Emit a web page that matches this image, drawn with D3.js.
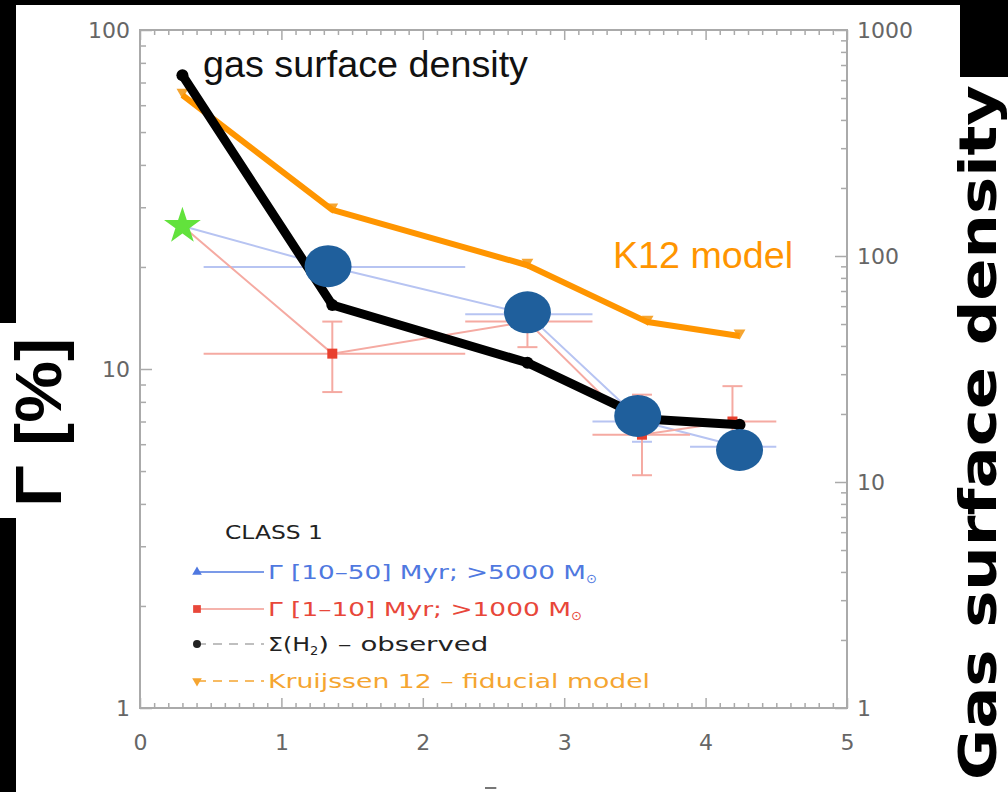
<!DOCTYPE html>
<html>
<head>
<meta charset="utf-8">
<script src="https://cdn.jsdelivr.net/npm/d3@7"></script>
<style>
  body { margin: 0; background: #000; }
  svg { display: block; }
  .tick text { font-family: "DejaVu Sans", sans-serif; fill: #666; }
</style>
</head>
<body>
<div id="chart"></div>
<script>
// Data
const xTicks = [0, 1, 2, 3, 4, 5];
const leftTicks = [1, 10, 100];
const rightTicks = [1, 10, 100, 1000];

// Gamma [10-50] Myr; >5000 Msun (left axis, %)
const blueX = [0.3, 1.35, 2.74, 3.55, 4.24];
const blueY = [26.4, 20.0, 14.5, 7.0, 5.9];
const blueXlo = [null, 0.45, 2.3, 3.2, 3.89];
const blueXhi = [null, 2.3, 3.2, 3.89, 4.5];
const blueYlo = [null, 18.5, 13.5, 6.1, 5.5];
const blueYhi = [null, 21.5, 15.5, 7.9, 6.3];

// Gamma [1-10] Myr; >1000 Msun (left axis, %)
const redX = [0.3, 1.36, 2.74, 3.55, 4.19];
const redY = [26.4, 11.1, 13.8, 6.4, 7.0];
const redXlo = [null, 0.45, 2.3, 3.2, 3.89];
const redXhi = [null, 2.3, 3.2, 3.89, 4.5];
const redYlo = [null, 8.55, 11.6, 4.86, 5.73];
const redYhi = [null, 13.8, 16.5, 8.4, 8.9];

// Sigma(H2) observed (right axis)
const gasX = [0.3, 1.36, 2.74, 3.58, 4.24];
const gasY = [631, 60.7, 33.7, 19.0, 17.9];

// Kruijssen 12 fiducial model (right axis)
const k12X = [0.3, 1.36, 2.74, 3.59, 4.24];
const k12Y = [515, 160, 91, 51, 44.3];

// Highlight discs over the blue points
const discX = [1.33, 2.74, 3.52, 4.24];
const discY = [20.1, 14.7, 7.27, 5.77];

const starX = 0.3, starY = 26.4;

const W = 1008, H = 792;
const svg = d3.select("#chart").append("svg").attr("width", W).attr("height", H);

// background pieces (black frame with white page)
svg.append("rect").attr("width", W).attr("height", H).attr("fill", "#000");
svg.append("rect").attr("x", 16).attr("y", 5).attr("width", 944).attr("height", H - 5).attr("fill", "#fff");
svg.append("rect").attr("x", 0).attr("y", 323).attr("width", 16).attr("height", 195).attr("fill", "#fff");
svg.append("rect").attr("x", 960).attr("y", 77).attr("width", 48).attr("height", H - 77).attr("fill", "#fff");

const x = d3.scaleLinear().domain([0, 5]).range([140, 847]);
const yL = d3.scaleLog().domain([1, 100]).range([708, 30]);
const yR = d3.scaleLog().domain([1, 1000]).range([708, 30]);

const axisColor = "#aaa";

// frame
svg.append("rect")
  .attr("x", x(0)).attr("y", yL(100))
  .attr("width", x(5) - x(0)).attr("height", yL(1) - yL(100))
  .attr("fill", "none").attr("stroke", axisColor).attr("stroke-width", 2);

function styleAxis(g) {
  g.select(".domain").remove();
  g.selectAll(".tick line").attr("stroke", axisColor).attr("stroke-width", 1.5);
}

const minorX = d3.range(0, 50).map((i) => i / 10).filter((v) => v % 1 !== 0);
const minorL = [1, 10].flatMap((d) => d3.range(2, 10).map((k) => k * d));
const minorR = [1, 10, 100].flatMap((d) => d3.range(2, 10).map((k) => k * d));

// bottom
svg.append("g").attr("transform", `translate(0,${yL(1)})`)
  .call(d3.axisBottom(x).tickValues(xTicks).tickSize(-10).tickPadding(26).tickFormat(d3.format("d")))
  .call(styleAxis).call((g) => g.selectAll("text").attr("font-size", 22));
svg.append("g").attr("transform", `translate(0,${yL(1)})`)
  .call(d3.axisBottom(x).tickValues(minorX).tickSize(-5).tickFormat(""))
  .call(styleAxis);
// top
svg.append("g").attr("transform", `translate(0,${yL(100)})`)
  .call(d3.axisTop(x).tickValues(xTicks).tickSize(-10).tickFormat(""))
  .call(styleAxis);
svg.append("g").attr("transform", `translate(0,${yL(100)})`)
  .call(d3.axisTop(x).tickValues(minorX).tickSize(-5).tickFormat(""))
  .call(styleAxis);
// left
svg.append("g").attr("transform", `translate(${x(0)},0)`)
  .call(d3.axisLeft(yL).tickValues(leftTicks).tickSize(-12).tickPadding(10).tickFormat(d3.format("d")))
  .call(styleAxis).call((g) => g.selectAll("text").attr("font-size", 22));
svg.append("g").attr("transform", `translate(${x(0)},0)`)
  .call(d3.axisLeft(yL).tickValues(minorL).tickSize(-6).tickFormat(""))
  .call(styleAxis);
// right
svg.append("g").attr("transform", `translate(${x(5)},0)`)
  .call(d3.axisRight(yR).tickValues(rightTicks).tickSize(-12).tickPadding(10).tickFormat(d3.format("d")))
  .call(styleAxis).call((g) => g.selectAll("text").attr("font-size", 22));
svg.append("g").attr("transform", `translate(${x(5)},0)`)
  .call(d3.axisRight(yR).tickValues(minorR).tickSize(-6).tickFormat(""))
  .call(styleAxis);

// cut-off x axis title fragment
svg.append("line").attr("x1", x(2.44)).attr("x2", x(2.52)).attr("y1", 788).attr("y2", 788)
  .attr("stroke", "#777").attr("stroke-width", 2);

const plot = svg.append("g");

// error bars + thin series lines
function series(xs, ys, xlo, xhi, ylo, yhi, faint) {
  const idx = d3.range(1, xs.length);
  plot.append("g").selectAll("line").data(idx).join("line")
    .attr("x1", (i) => x(xlo[i])).attr("x2", (i) => x(xhi[i]))
    .attr("y1", (i) => yL(ys[i])).attr("y2", (i) => yL(ys[i]))
    .attr("stroke", faint).attr("stroke-width", 2);
  plot.append("g").selectAll("line").data(idx).join("line")
    .attr("x1", (i) => x(xs[i])).attr("x2", (i) => x(xs[i]))
    .attr("y1", (i) => yL(ylo[i])).attr("y2", (i) => yL(yhi[i]))
    .attr("stroke", faint).attr("stroke-width", 2);
  const caps = idx.flatMap((i) => [[xs[i], ylo[i]], [xs[i], yhi[i]]]);
  plot.append("g").selectAll("line").data(caps).join("line")
    .attr("x1", (d) => x(d[0]) - 10).attr("x2", (d) => x(d[0]) + 10)
    .attr("y1", (d) => yL(d[1])).attr("y2", (d) => yL(d[1]))
    .attr("stroke", faint).attr("stroke-width", 2);
  plot.append("path")
    .datum(xs.map((v, i) => [v, ys[i]]))
    .attr("d", d3.line().x((d) => x(d[0])).y((d) => yL(d[1])))
    .attr("fill", "none").attr("stroke", faint).attr("stroke-width", 2);
}
series(blueX, blueY, blueXlo, blueXhi, blueYlo, blueYhi, "#b7c4f2");
series(redX, redY, redXlo, redXhi, redYlo, redYhi, "#f5aaa2");

// red squares
plot.append("g").selectAll("rect").data(d3.range(1, redX.length)).join("rect")
  .attr("x", (i) => x(redX[i]) - 5).attr("y", (i) => yL(redY[i]) - 5)
  .attr("width", 10).attr("height", 10).attr("fill", "#e8402e");

// green star
plot.append("path")
  .attr("d", d3.symbol(d3.symbolStar, 420)())
  .attr("transform", `translate(${x(starX)},${yL(starY)})`)
  .attr("fill", "#62e23c");

// K12 model
const lineR = d3.line().x((d) => x(d[0])).y((d) => yR(d[1]));
plot.append("g").selectAll("path").data(k12X.map((v, i) => [v, k12Y[i]])).join("path")
  .attr("d", d3.symbol(d3.symbolTriangle, 60)())
  .attr("transform", (d) => `translate(${x(d[0])},${yR(d[1]) - 3}) rotate(180)`)
  .attr("fill", "#f5a531");
plot.append("path")
  .datum(k12X.map((v, i) => [v, k12Y[i]]))
  .attr("d", lineR)
  .attr("fill", "none").attr("stroke", "#ff9500").attr("stroke-width", 6)
  .attr("stroke-linejoin", "round");

// observed gas surface density
plot.append("path")
  .datum(gasX.map((v, i) => [v, gasY[i]]))
  .attr("d", lineR)
  .attr("fill", "none").attr("stroke", "#000").attr("stroke-width", 9);
plot.append("g").selectAll("circle").data(gasX.map((v, i) => [v, gasY[i]])).join("circle")
  .attr("cx", (d) => x(d[0])).attr("cy", (d) => yR(d[1])).attr("r", 6).attr("fill", "#000");

// blue discs
plot.append("g").selectAll("ellipse").data(discX.map((v, i) => [v, discY[i]])).join("ellipse")
  .attr("cx", (d) => x(d[0])).attr("cy", (d) => yL(d[1]))
  .attr("rx", 23.5).attr("ry", 21).attr("fill", "#1f5f9c");

// annotations
svg.append("text").attr("x", 203).attr("y", 77)
  .attr("font-family", "Liberation Sans, sans-serif").attr("font-size", 37)
  .attr("textLength", 325).attr("lengthAdjust", "spacingAndGlyphs")
  .attr("fill", "#111").text("gas surface density");
svg.append("text").attr("x", 613).attr("y", 268)
  .attr("font-family", "Liberation Sans, sans-serif").attr("font-size", 37)
  .attr("textLength", 180).attr("lengthAdjust", "spacingAndGlyphs")
  .attr("fill", "#ff9500").text("K12 model");

// legend (wide IDL-style lettering: stretch glyphs)
const legend = svg.append("g").attr("font-family", "DejaVu Sans, sans-serif").attr("font-size", 20);
legend.append("text").attr("x", 225).attr("y", 539).attr("fill", "#222")
  .attr("textLength", 98).attr("lengthAdjust", "spacingAndGlyphs").text("CLASS 1");

const legendRows = [
  { y: 572, color: "#4f78e0", line: "#4f78e0", dash: null, mark: "tri" },
  { y: 609, color: "#e8473a", line: "#f29a90", dash: null, mark: "sq" },
  { y: 644, color: "#222", line: "#aaa", dash: "9,7", mark: "dot" },
  { y: 681, color: "#f5a531", line: "#f5a531", dash: "9,7", mark: "dtri" },
];
legendRows.forEach((r) => {
  legend.append("line").attr("x1", 197).attr("x2", 264).attr("y1", r.y).attr("y2", r.y)
    .attr("stroke", r.line).attr("stroke-width", 1.5).attr("stroke-dasharray", r.dash);
  const m = legend.append("path").attr("fill", r.color)
    .attr("transform", `translate(197,${r.y})${r.mark === "dtri" ? " rotate(180)" : ""}`);
  if (r.mark === "tri" || r.mark === "dtri") m.attr("d", d3.symbol(d3.symbolTriangle, 40)());
  else if (r.mark === "sq") m.attr("d", d3.symbol(d3.symbolSquare, 60)());
  else m.attr("d", d3.symbol(d3.symbolCircle, 50)());
});

const t1 = legend.append("text").attr("x", 268).attr("y", 579).attr("fill", "#4f78e0");
t1.append("tspan").attr("textLength", 318).attr("lengthAdjust", "spacingAndGlyphs").text("Γ [10–50] Myr; >5000 M");
t1.append("tspan").attr("font-size", 13).attr("dy", 4).text("⊙");
const t2 = legend.append("text").attr("x", 268).attr("y", 616).attr("fill", "#e8473a");
t2.append("tspan").attr("textLength", 303).attr("lengthAdjust", "spacingAndGlyphs").text("Γ [1–10] Myr; >1000 M");
t2.append("tspan").attr("font-size", 13).attr("dy", 4).text("⊙");
const t3 = legend.append("text").attr("x", 268).attr("y", 651).attr("fill", "#222");
t3.append("tspan").attr("textLength", 42).attr("lengthAdjust", "spacingAndGlyphs").text("Σ(H");
t3.append("tspan").attr("font-size", 13).attr("dy", 4).text("2");
t3.append("tspan").attr("dy", -4).attr("textLength", 170).attr("lengthAdjust", "spacingAndGlyphs").text(") – observed");
legend.append("text").attr("x", 268).attr("y", 688).attr("fill", "#f5a531")
  .attr("textLength", 382).attr("lengthAdjust", "spacingAndGlyphs")
  .text("Kruijssen 12 – fiducial model");

// axis titles (rotated, heavy)
svg.append("text")
  .attr("transform", "translate(61,507) rotate(-90)")
  .attr("font-family", "Liberation Sans, sans-serif").attr("font-weight", "bold")
  .attr("font-size", 64).attr("textLength", 169).attr("lengthAdjust", "spacingAndGlyphs")
  .attr("fill", "#000").text("Γ [%]");
svg.append("text")
  .attr("transform", "translate(996,780) rotate(-90)")
  .attr("font-family", "DejaVu Sans, sans-serif").attr("font-weight", "bold")
  .attr("font-size", 52).attr("textLength", 695).attr("lengthAdjust", "spacingAndGlyphs")
  .attr("fill", "#000").text("Gas surface density");
</script>
</body>
</html>
